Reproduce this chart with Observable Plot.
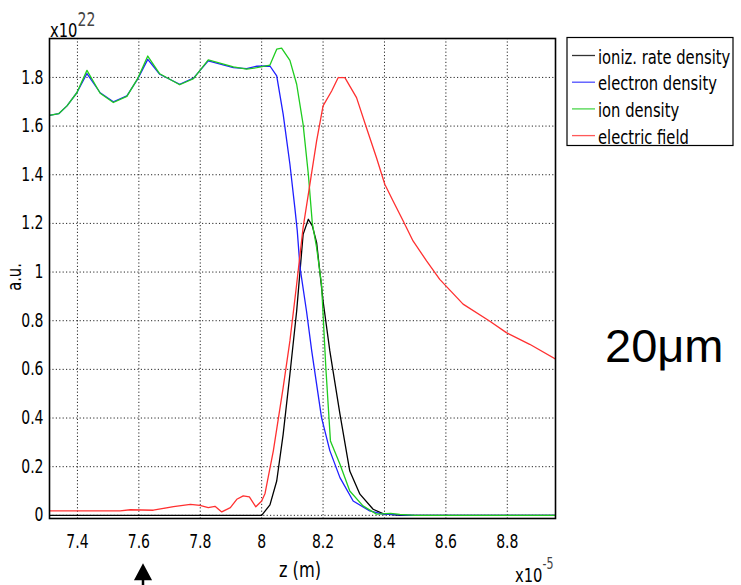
<!DOCTYPE html>
<html><head><meta charset="utf-8">
<script src="https://cdn.jsdelivr.net/npm/d3@7"></script>
<script src="https://cdn.jsdelivr.net/npm/@observablehq/plot@0.6"></script>
<style>
html,body{margin:0;padding:0;background:#fff;}
#chart{position:relative;width:741px;height:585px;overflow:hidden;}
#chart svg{display:block;}
</style></head><body><div id="chart"></div>
<script>
// ---- data (z in units of 1e-5 m, values in units of 1e22) ----
const seriesNames = ["ioniz. rate density", "electron density", "ion density", "electric field"];
const seriesColors = ["#000000", "#1f1fff", "#1fcc1f", "#ff3030"];

const zIoniz = [7.309, 8.0, 8.027, 8.049, 8.070, 8.092, 8.114, 8.135, 8.152, 8.165, 8.179, 8.200, 8.222, 8.255, 8.287, 8.320, 8.363, 8.395, 8.45, 8.957];
const vIoniz = [0, 0, 0.043, 0.141, 0.333, 0.580, 0.840, 1.155, 1.217, 1.190, 1.121, 0.881, 0.676, 0.416, 0.182, 0.087, 0.025, 0.007, 0, 0];

const zElectron = [7.309, 7.339, 7.366, 7.398, 7.431, 7.474, 7.517, 7.561, 7.596, 7.629, 7.668, 7.733, 7.778, 7.826, 7.908, 7.951, 7.984, 8.027, 8.049, 8.070, 8.092, 8.108, 8.116, 8.125, 8.146, 8.163, 8.195, 8.222, 8.255, 8.298, 8.352, 8.395, 8.45, 8.5, 8.957];
const vElectron = [1.644, 1.651, 1.683, 1.737, 1.816, 1.737, 1.700, 1.724, 1.793, 1.874, 1.813, 1.772, 1.797, 1.868, 1.840, 1.836, 1.846, 1.847, 1.806, 1.649, 1.443, 1.265, 1.169, 1.018, 0.840, 0.676, 0.402, 0.266, 0.155, 0.059, 0.018, 0.005, 0.002, 0, 0];

const zIon = [7.309, 7.339, 7.366, 7.398, 7.431, 7.474, 7.517, 7.561, 7.596, 7.629, 7.668, 7.733, 7.778, 7.826, 7.908, 7.951, 7.984, 8.027, 8.049, 8.065, 8.092, 8.114, 8.135, 8.152, 8.165, 8.179, 8.195, 8.209, 8.224, 8.255, 8.287, 8.330, 8.374, 8.42, 8.45, 8.5, 8.957];
const vIon = [1.644, 1.651, 1.683, 1.737, 1.829, 1.735, 1.697, 1.722, 1.795, 1.888, 1.815, 1.770, 1.795, 1.872, 1.843, 1.834, 1.840, 1.851, 1.916, 1.920, 1.870, 1.772, 1.607, 1.402, 1.200, 1.100, 0.950, 0.607, 0.306, 0.210, 0.100, 0.039, 0.005, 0.008, 0.004, 0, 0];

const zField = [7.309, 7.539, 7.572, 7.647, 7.713, 7.768, 7.799, 7.826, 7.848, 7.870, 7.898, 7.919, 7.940, 7.960, 7.981, 8.0, 8.011, 8.038, 8.070, 8.092, 8.114, 8.135, 8.157, 8.179, 8.200, 8.228, 8.249, 8.271, 8.309, 8.341, 8.374, 8.401, 8.428, 8.461, 8.493, 8.537, 8.58, 8.656, 8.742, 8.797, 8.873, 8.957];
const vField = [0.018, 0.018, 0.023, 0.021, 0.036, 0.045, 0.041, 0.032, 0.037, 0.014, 0.032, 0.066, 0.080, 0.076, 0.035, 0.059, 0.090, 0.265, 0.525, 0.717, 0.950, 1.183, 1.360, 1.539, 1.683, 1.744, 1.799, 1.799, 1.717, 1.594, 1.470, 1.361, 1.292, 1.210, 1.128, 1.046, 0.970, 0.868, 0.799, 0.751, 0.703, 0.642];

const xTicks = [7.4, 7.6, 7.8, 8.0, 8.2, 8.4, 8.6, 8.8];
const xTickLabels = ["7.4", "7.6", "7.8", "8", "8.2", "8.4", "8.6", "8.8"];
const yTicks = [0, 0.2, 0.4, 0.6, 0.8, 1.0, 1.2, 1.4, 1.6, 1.8];
const yTickLabels = ["0", "0.2", "0.4", "0.6", "0.8", "1", "1.2", "1.4", "1.6", "1.8"];

const xLabel = "z (m)";
const yLabel = "a.u.";
const yExponent = ["x10", "22"];
const xExponent = ["x10", "-5"];
const sideNote = "20μm";

// ---- build table ----
const seriesZ = [zIoniz, zElectron, zIon, zField];
const seriesV = [vIoniz, vElectron, vIon, vField];
const rows = [];
seriesNames.forEach((name, k) => {
  seriesZ[k].forEach((z, i) => rows.push({series: name, z, v: seriesV[k][i]}));
});

const FONT = "'DejaVu Sans Condensed', 'DejaVu Sans', sans-serif";
const SQUEEZE = 0.82;

const W = 741, H = 585;
const chart = Plot.plot({
  width: W,
  height: H,
  marginLeft: 49,
  marginRight: 186,
  marginTop: 38,
  marginBottom: 67,
  style: {fontFamily: FONT, fontSize: "19px", color: "#000", background: "#fff"},
  x: {domain: [7.309, 8.957]},
  y: {domain: [-0.013, 1.96]},
  color: {domain: seriesNames, range: seriesColors},
  marks: [
    Plot.gridX(xTicks, {stroke: "#000", strokeOpacity: 0.85, strokeDasharray: "1.2,2.2"}),
    Plot.gridY(yTicks, {stroke: "#000", strokeOpacity: 0.85, strokeDasharray: "1.2,2.2"}),
    Plot.axisX(xTicks, {tickSize: 0, tickPadding: 16, tickFormat: d => xTickLabels[xTicks.indexOf(d)], label: null}),
    Plot.axisY(yTicks, {tickSize: 0, tickPadding: 6, tickFormat: d => yTickLabels[yTicks.indexOf(d)], label: null}),
    Plot.line(rows, {x: "z", y: "v", z: "series", stroke: "series", strokeWidth: 1.3, clip: true}),
    Plot.frame({stroke: "#000", strokeWidth: 1.6})
  ]
});
document.getElementById("chart").appendChild(chart);

const svg = d3.select(chart);
// narrow the tick labels like the reference's condensed screen font
svg.selectAll('g[aria-label$="tick label"] text').each(function() {
  const t = this.getAttribute("transform") || "";
  this.setAttribute("transform", t + ` scale(${SQUEEZE},1)`);
});

// ---- annotations (titles, legend) ----
const g = svg.append("g").attr("font-family", FONT).attr("fill", "#000").attr("text-anchor", "start");

function squeezedText(parent, x, y, size, extra) {
  return parent.append("text")
    .attr("transform", `translate(${x},${y}) ${extra || ""} scale(${SQUEEZE},1)`)
    .attr("text-anchor", "start")
    .attr("font-size", size);
}

// y exponent
const ye = squeezedText(g, 50, 37, 20);
ye.append("tspan").text(yExponent[0]);
ye.append("tspan").attr("dy", -11).attr("font-size", 19).attr("fill", "#444").text(yExponent[1]);

// x exponent
const xe = squeezedText(g, 515, 582, 20);
xe.append("tspan").text(xExponent[0]);
xe.append("tspan").attr("dy", -13).attr("font-size", 15).attr("fill", "#444").text(xExponent[1]);

// axis labels
squeezedText(g, 300, 577, 22).attr("text-anchor", "middle").text(xLabel);
squeezedText(g, 21, 277, 20, "rotate(-90)").attr("text-anchor", "middle").text(yLabel);

// legend
const lg = g.append("g");
lg.append("rect").attr("x", 567).attr("y", 37.5).attr("width", 166).attr("height", 108)
  .attr("fill", "#fff").attr("stroke", "#000").attr("stroke-width", 1.2);
seriesNames.forEach((name, i) => {
  const by = 63.5 + i * 26.7;
  lg.append("line").attr("x1", 572).attr("x2", 595).attr("y1", by - 8).attr("y2", by - 8)
    .attr("stroke", seriesColors[i]).attr("stroke-width", 1.3).attr("stroke-opacity", 0.8);
  squeezedText(lg, 598, by, 20).text(name);
});

// side note
g.append("text").attr("x", 605).attr("y", 362).attr("text-anchor", "start")
  .attr("font-family", "'Liberation Sans', Arial, sans-serif")
  .attr("font-size", 47).text(sideNote);

// arrow
g.append("path").attr("d", "M143,585 L143,576 M136,579 L143,566 L150,579 Z")
  .attr("stroke", "#000").attr("stroke-width", 2.5).attr("fill", "#000");
</script>
</body></html>
